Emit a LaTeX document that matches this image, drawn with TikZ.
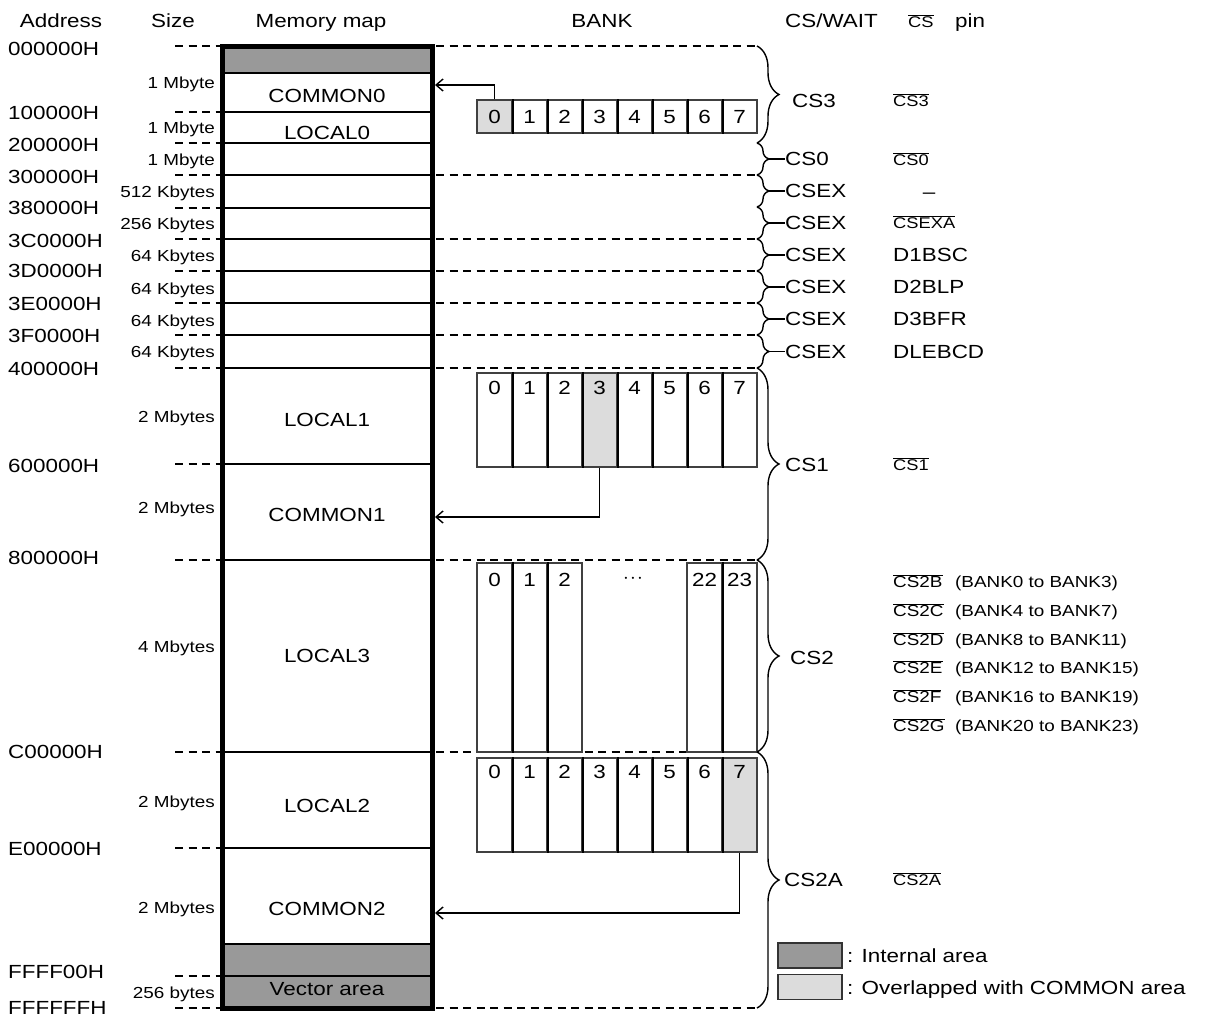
\documentclass[tikz,border=0pt]{standalone}
\usepackage{fontspec}
\setmainfont{Liberation Sans}[FakeStretch=1.18]
\usetikzlibrary{decorations.pathreplacing,arrows.meta}
\newcommand\fsz[1]{\fontsize{#1}{#1}\selectfont}
\newcommand\ovl[1]{$\overline{\hbox{#1}}$}
\definecolor{darkg}{HTML}{999999}
\definecolor{lightg}{HTML}{DCDCDC}
\begin{document}
\begin{tikzpicture}[x=1pt,y=-1pt,
  t19/.style={font=\fsz{19}, inner sep=0pt, text height=13.6pt, text depth=0pt},
  t16/.style={font=\fsz{16}, inner sep=0pt, text height=11.5pt, text depth=0pt},
  t15/.style={font=\fsz{15.5}, inner sep=0pt, text height=11.1pt, text depth=0pt},
  dsh/.style={dash pattern=on 8pt off 5.5pt, line width=1.3pt},
  divl/.style={line width=1.5pt},
  cell/.style={draw=black!75, line width=1.2pt, inner sep=0pt, minimum width=35pt},
  bdiv/.style={line width=2.2pt},
  arr/.style={line width=1.4pt, -{Straight Barb[length=7pt,width=12pt,line width=1.4pt]}},
  brc/.style={decorate, line width=1.4pt},
  legbox/.style={draw=black!80, line width=1.3pt, minimum width=64pt, minimum height=25pt, inner sep=0pt}
]
\useasboundingbox (0,0) rectangle (1208,1017);

% headers
\node[t19] (hAddr) at (61,21) {Address};
\node[t19] (hSize) at (173,21) {Size};
\node[t19] (hMem) at (321,21) {Memory map};
\node[t19] (hBank) at (602,21) {BANK};
\node[t19, anchor=west] (hCS) at (785,21) {CS/WAIT};
\node[t15, anchor=west] (hPinCS) at (908,22) {\ovl{CS}};
\node[t19, anchor=west] (hPin) at (955,21) {pin};

% memory map fills and dividers
\fill[darkg] (225,46) rectangle (430,73);
\fill[darkg] (225,944) rectangle (430,1008);
\draw[line width=1.2pt] (225,73) -- (430,73);
\foreach \y in {112,143,175,208,239,271,303,335,368,464,560,752,848,944,976}
  \draw[divl] (225,\y) -- (430,\y);
\node[draw, line width=5pt, inner sep=0pt, minimum width=210pt, minimum height=961.5pt] (mem) at (327.5,527.25) {};

% left dashes
\foreach \y in {46,112,143,175,208,239,271,303,335,368,464,560,752,848,976,1008}
  \draw[dsh] (175,\y) -- (220,\y);
% right dashes
\foreach \y in {46,175,239,271,303,335,368,560,752,1008}
  \draw[dsh] (436,\y) -- (757,\y);

% address labels
\foreach \t/\y [count=\k] in {000000H/49,100000H/113,200000H/145,300000H/177,380000H/207.5,3C0000H/241,3D0000H/271,3E0000H/304,3F0000H/336,400000H/369,600000H/466,800000H/558,C00000H/752,E00000H/849,FFFF00H/972,FFFFFFH/1008}
  \node[t19, anchor=west] (ad\k) at (8,\y) {\t};

% size labels
\foreach \t/\y [count=\k] in {1 Mbyte/83,1 Mbyte/128,1 Mbyte/160,512 Kbytes/192,256 Kbytes/224,64 Kbytes/256,64 Kbytes/289,64 Kbytes/321,64 Kbytes/352,2 Mbytes/417,2 Mbytes/508,4 Mbytes/647,2 Mbytes/802,2 Mbytes/908,256 bytes/993}
  \node[t16, anchor=east] (sz\k) at (215,\y) {\t};

% memory names
\foreach \t/\y [count=\k] in {COMMON0/96,LOCAL0/133,LOCAL1/420,COMMON1/515,LOCAL3/656,LOCAL2/806,COMMON2/909,Vector area/989}
  \node[t19] (mn\k) at (327,\y) {\t};

% CS3 bank row
\foreach \i/\f in {0/lightg,1/white,2/white,3/white,4/white,5/white,6/white,7/white}{
  \node[cell, fill=\f, minimum height=33pt] (sa\i) at ({494.5+35*\i},116.5) {};
  \node[t19] (da\i) at (sa\i) {\i};
}
\foreach \i in {0,...,6} \draw[bdiv] (sa\i.north east) -- (sa\i.south east);

% CS1 bank row
\foreach \i/\f in {0/white,1/white,2/white,3/lightg,4/white,5/white,6/white,7/white}{
  \node[cell, fill=\f, minimum height=94pt] (sb\i) at ({494.5+35*\i},420) {};
  \node[t19] (db\i) at ([yshift=-15.5pt]sb\i.north) {\i};
}
\foreach \i in {0,...,6} \draw[bdiv] (sb\i.north east) -- (sb\i.south east);

% CS2 bank row
\foreach \i/\t in {0/0,1/1,2/2,6/22,7/23}{
  \node[cell, minimum height=189pt] (sc\i) at ({494.5+35*\i},657.5) {};
  \node[t19] (dc\i) at ([yshift=-17pt]sc\i.north) {\t};
}
\foreach \i in {0,1,6} \draw[bdiv] (sc\i.north east) -- (sc\i.south east);
\node[font=\fsz{22}, inner sep=0pt] (dots) at (633,579) {$\cdot\!\cdot\!\cdot$};

% CS2A bank row
\foreach \i/\f in {0/white,1/white,2/white,3/white,4/white,5/white,6/white,7/lightg}{
  \node[cell, fill=\f, minimum height=94pt] (sd\i) at ({494.5+35*\i},805) {};
  \node[t19] (dd\i) at ([yshift=-14.5pt]sd\i.north) {\i};
}
\foreach \i in {0,...,6} \draw[bdiv] (sd\i.north east) -- (sd\i.south east);

% arrows
\coordinate (ar0) at (435,85);
\coordinate (ar1) at (435,517);
\coordinate (ar2) at (435,913);
\draw[arr] (sa0.north) |- (ar0);
\draw[arr] (sb3.south) |- (ar1);
\draw[arr] (sd7.south) |- (ar2);

% big braces
\draw[brc, decoration={brace,amplitude=22pt}] (757,46) -- (757,143);
\draw[brc, decoration={brace,amplitude=22pt}] (757,368) -- (757,560);
\draw[brc, decoration={brace,amplitude=22pt}] (757,560) -- (757,752);
\draw[brc, decoration={brace,amplitude=22pt}] (757,752) -- (757,1008);
\node[t19, anchor=west] (cs3) at (792,101) {CS3};
\node[t19, anchor=west] (cs1) at (785,465) {CS1};
\node[t19, anchor=west] (cs2) at (790,658) {CS2};
\node[t19, anchor=west] (cs2a) at (784,880) {CS2A};

% small braces
\foreach \a/\b/\t [count=\k] in {143/175/CS0,175/207/CSEX,207/239/CSEX,239/271/CSEX,271/303/CSEX,303/335/CSEX,335/368/CSEX}{
  \draw[brc, decoration={brace,amplitude=12pt}] (757,\a) -- (757,\b);
  \coordinate (bt\k) at (769,{(\a+\b)/2});
  \node[t19, anchor=west] (sl\k) at (785,{(\a+\b)/2}) {\t};
  \draw[line width=1.4pt] (bt\k) -- (sl\k.west);
}

% pin labels
\node[t15, anchor=west] (p3) at (893,101) {\ovl{CS3}};
\node[t15, anchor=west] (p0) at (893,160) {\ovl{CS0}};
\node[t19] (pd) at (929,192) {–};
\node[t15, anchor=west] (pxa) at (893,223) {\ovl{CSEXA}};
\node[t19, anchor=west] (pd1) at (893,255) {D1BSC};
\node[t19, anchor=west] (pd2) at (893,287) {D2BLP};
\node[t19, anchor=west] (pd3) at (893,319) {D3BFR};
\node[t19, anchor=west] (pdl) at (893,351.5) {DLEBCD};
\node[t15, anchor=west] (p1) at (893,465) {\ovl{CS1}};
\foreach \p/\t/\y [count=\k] in {CS2B/BANK0 to BANK3/582,CS2C/BANK4 to BANK7/611,CS2D/BANK8 to BANK11/640,CS2E/BANK12 to BANK15/668,CS2F/BANK16 to BANK19/697,CS2G/BANK20 to BANK23/726}{
  \node[t16, anchor=west] (pc\k) at (893,\y) {\ovl{\p}};
  \node[t16, anchor=west] (pt\k) at (955,\y) {(\t)};
}
\node[t15, anchor=west] (p2a) at (893,880) {\ovl{CS2A}};

% legend
\node[legbox, fill=darkg] (lg1) at (810,955.5) {};
\node[legbox, fill=lightg] (lg2) at (810,987) {};
\node[t19, anchor=west] (lt1) at (847,956) {: Internal area};
\node[t19, anchor=west] (lt2) at (847,988) {: Overlapped with COMMON area};
\end{tikzpicture}
\end{document}
